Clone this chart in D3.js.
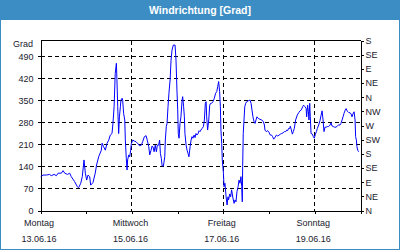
<!DOCTYPE html>
<html>
<head>
<meta charset="utf-8">
<script src="https://cdn.jsdelivr.net/npm/d3@7"></script>
<style>
  body { margin: 0; background: #fff; }
  svg { display: block; font-family: "Liberation Sans", Arial, sans-serif; }
</style>
</head>
<body>
<svg id="chart" width="400" height="250"></svg>
<script>
const title = 'Windrichtung [Grad]';
const unitLabel = 'Grad';
const dayNames = ['Montag', 'Mittwoch', 'Freitag', 'Sonntag'];
const dateLabels = ['13.06.16', '15.06.16', '17.06.16', '19.06.16'];
const gradTicks = [0, 70, 140, 210, 280, 350, 420, 490];
const compassTicks = [0, 45, 90, 135, 180, 225, 270, 315, 360, 405, 450, 495, 540];
const compassLabels = ['N', 'NE', 'E', 'SE', 'S', 'SW', 'W', 'NW', 'N', 'NE', 'E', 'SE', 'S'];

// hours since Mo 13.06.16 00:00
const hours = [
  0.4, 1.6, 3.3, 5.1, 5.9, 7.4, 8.6, 9.5, 11.2, 12.1, 13.0, 14.4, 15.6, 16.4, 18.2,
  19.6, 20.3, 21.4, 22.2, 23.1, 23.8, 24.5, 25.2, 26.1, 26.6, 27.8, 29.0, 29.7, 30.8, 32.2,
  32.6, 33.4, 34.3, 35.2, 36.1, 36.9, 37.8, 38.3, 38.9, 39.2, 39.5, 40.1, 40.4, 40.8, 41.3,
  41.7, 42.2, 42.5, 43.1, 43.4, 43.9, 44.5, 44.8, 45.3, 45.7, 46.0, 46.6, 47.1, 47.6, 48.0,
  48.7, 49.5, 50.4, 51.5, 52.3, 53.2, 53.9, 54.8, 55.7, 56.3, 57.1, 57.6, 58.3, 58.8, 59.3,
  59.9, 60.5, 61.1, 61.6, 62.3, 62.8, 63.2, 63.7, 64.1, 64.8, 65.5, 65.8, 66.3,
  66.7, 67.2, 67.7, 68.3, 68.8, 69.3, 70.0, 70.9, 71.4, 71.9, 72.3, 72.6, 73.0, 73.5, 74.0,
  74.6, 74.9, 75.4, 75.8, 76.1, 76.7, 77.2, 77.7, 78.2, 78.8, 79.3, 79.8, 80.3, 80.9, 81.4,
  81.9, 82.4, 83.0, 83.5, 84.0, 84.5, 85.1, 85.8, 86.3, 86.8, 87.2, 87.5, 88.0, 88.6, 89.1,
  89.6, 90.1, 90.8, 91.5, 92.2, 92.8, 93.3, 93.8, 94.3, 94.7, 95.0, 95.4, 95.7, 96.3, 96.6,
  97.1, 97.7, 98.2, 98.7, 99.0, 99.6, 100.1, 100.6,
  101.3, 101.9, 102.4, 102.9, 103.4, 104.0, 104.5, 105.0, 105.5, 105.9, 106.2, 106.4, 106.7, 107.1, 107.5,
  108.0, 108.5, 109.4, 110.3, 110.8, 111.3, 111.8, 112.4, 112.9, 113.4, 113.9, 114.6, 115.5, 116.4, 117.3,
  117.8, 118.1, 118.8, 119.5, 120.2, 120.9, 121.6, 122.1, 122.7, 123.4, 124.1, 124.8, 125.5, 126.2, 126.9,
  127.6, 128.3, 129.0, 129.5, 130.0, 130.5, 131.1, 131.4, 131.9, 132.5, 133.0, 133.5, 134.2,
  135.1, 135.8, 136.5, 137.2, 137.9, 138.4, 139.1, 139.7, 140.0, 140.5, 140.9, 141.2, 141.6, 141.9, 142.3,
  143.0, 143.5, 144.0, 144.6, 145.1, 145.6, 146.3, 147.0, 147.5, 148.1, 148.6, 149.1, 149.6, 150.2, 150.8,
  151.5, 152.3, 152.8, 153.3, 154.0, 154.7, 155.4, 156.1, 156.8, 157.5, 158.0, 158.6, 159.1, 159.6, 160.1,
  160.7, 161.2, 161.7, 162.2, 162.8, 163.3, 163.8, 164.3, 164.9, 165.4, 165.7, 166.1, 166.4, 166.8, 167.3
];

// wind direction in degrees (0..540 scale, as plotted)
const windDir = [
  106, 111, 111, 113, 109, 113, 109, 117, 117, 125, 117, 113, 117, 106, 90,
  74, 71, 85, 106, 159, 117, 95, 111, 106, 79, 87, 117, 143, 169, 190,
  212, 201, 190, 212, 222, 238, 243, 275, 328, 381, 434, 466, 413, 328, 243,
  296, 328, 349, 355, 349, 307, 286, 222, 164, 127, 159, 175, 169, 190, 212,
  222, 219, 217, 210, 204, 206, 217, 233, 236, 222, 201, 175, 190, 203, 201,
  185, 206, 185, 206, 206, 222, 180, 164, 140, 140, 169, 222, 265,
  275, 328, 371, 413, 476, 508, 524, 524, 476, 381, 318, 243, 228, 275, 296,
  349, 360, 328, 296, 243, 206, 190, 180, 169, 201, 222, 233, 228, 238, 230,
  243, 238, 243, 252, 249, 254, 259, 265, 286, 339, 344, 296, 254, 286, 333,
  339, 339, 344, 355, 371, 376, 392, 408, 376, 328, 254, 212, 159, 117, 74,
  85, 42, 16, 42, 32, 51, 42, 64,
  38, 21, 32, 26, 58, 74, 95, 85, 106, 74, 26, 138, 243, 286, 328,
  339, 344, 347, 349, 339, 317, 296, 280, 275, 286, 296, 291, 288, 286, 280,
  270, 254, 249, 252, 247, 238, 238, 233, 225, 231, 238, 235, 238, 241, 243,
  245, 249, 249, 254, 252, 259, 259, 266, 256, 241, 249, 259, 286,
  302, 309, 315, 318, 328, 333, 328, 323, 296, 333, 312, 286, 339, 296, 243,
  241, 233, 228, 241, 249, 259, 270, 284, 299, 315, 286, 249, 263, 263, 265,
  265, 270, 277, 267, 265, 263, 263, 267, 270, 270, 275, 286, 296, 307, 315,
  322, 315, 312, 309, 309, 305, 296, 305, 312, 286, 233, 222, 201, 190, 185
];

const W = 400, H = 250;
const margin = {left: 40, top: 40, right: 40, bottom: 40};
const plotW = W - margin.left - margin.right;
const plotH = H - margin.top - margin.bottom;
const blue = '#3c8dc4';
const textColor = '#1a1a2e';

const startDate = new Date(2016, 5, 13);
const hourMs = 3600 * 1000;
const data = hours.map((h, i) => ({date: new Date(+startDate + h * hourMs), value: windDir[i]}));
const majorDates = dateLabels.map((d, i) => new Date(+startDate + i * 48 * hourMs));

const svg = d3.select('#chart');

// frame + title bar
svg.append('rect')
   .attr('x', 0.5).attr('y', 0.5)
   .attr('width', W - 1).attr('height', H - 1)
   .attr('fill', '#fff')
   .attr('stroke', blue);

svg.append('rect')
   .attr('x', 0).attr('y', 0)
   .attr('width', W).attr('height', 20)
   .attr('fill', blue);

svg.append('text')
   .attr('x', W / 2).attr('y', 14)
   .attr('text-anchor', 'middle')
   .attr('fill', '#fff')
   .attr('font-weight', 'bold')
   .attr('font-size', '10.5px')
   .text(title);

const xScale = d3.scaleTime()
                 .domain([startDate, new Date(+startDate + 7 * 24 * hourMs)])
                 .range([margin.left, margin.left + plotW]);
const yScale = d3.scaleLinear()
                 .domain([0, 540])
                 .range([margin.top + plotH, margin.top]);

const g = svg.append('g').attr('transform', 'translate(0.5,0.5)');

// grid lines
g.append('g')
 .selectAll('line')
 .data(gradTicks.filter(d => d > 0))
 .join('line')
 .attr('x1', margin.left).attr('x2', margin.left + plotW)
 .attr('y1', d => Math.round(yScale(d))).attr('y2', d => Math.round(yScale(d)))
 .attr('stroke', '#000')
 .attr('stroke-dasharray', '4,3')
 .attr('shape-rendering', 'crispEdges');

g.append('g')
 .selectAll('line')
 .data(majorDates.slice(1))
 .join('line')
 .attr('x1', d => Math.round(xScale(d))).attr('x2', d => Math.round(xScale(d)))
 .attr('y1', margin.top).attr('y2', margin.top + plotH)
 .attr('stroke', '#000')
 .attr('stroke-dasharray', '4,3')
 .attr('shape-rendering', 'crispEdges');

// axes
const yAxis = d3.axisLeft(yScale)
                .tickValues(gradTicks)
                .tickSize(3)
                .tickSizeOuter(0)
                .tickPadding(4);
const y2Axis = d3.axisRight(yScale)
                 .tickValues(compassTicks)
                 .tickFormat((d, i) => compassLabels[i])
                 .tickSize(3)
                 .tickSizeOuter(0)
                 .tickPadding(2);
const xAxis = d3.axisBottom(xScale)
                .ticks(d3.timeDay.every(1))
                .tickFormat('')
                .tickSize(3)
                .tickSizeOuter(0);

function styleAxis(sel) {
  sel.selectAll('path, line')
     .attr('stroke', '#000')
     .attr('shape-rendering', 'crispEdges');
  sel.selectAll('text')
     .attr('fill', textColor)
     .attr('font-size', '9px')
     .attr('font-family', '"Liberation Sans", Arial, sans-serif');
}

g.append('g')
 .attr('transform', `translate(${margin.left},0)`)
 .call(yAxis)
 .call(styleAxis);

g.append('g')
 .attr('transform', `translate(${margin.left + plotW},0)`)
 .call(y2Axis)
 .call(styleAxis);

g.append('g')
 .attr('transform', `translate(0,${margin.top + plotH})`)
 .call(xAxis)
 .call(styleAxis);

// plot box top line
g.append('line')
 .attr('x1', margin.left).attr('x2', margin.left + plotW)
 .attr('y1', margin.top).attr('y2', margin.top)
 .attr('stroke', '#000')
 .attr('shape-rendering', 'crispEdges');

// unit label
svg.append('text')
   .attr('x', 33).attr('y', 47)
   .attr('text-anchor', 'end')
   .attr('fill', textColor)
   .attr('font-size', '9px')
   .text(unitLabel);

// x labels (day name + date)
const xLabels = svg.append('g')
                   .selectAll('g')
                   .data(majorDates)
                   .join('g')
                   .attr('transform', d => `translate(${xScale(d) - 1},0)`);
xLabels.append('text')
       .attr('y', 226)
       .attr('text-anchor', 'middle')
       .attr('fill', textColor)
       .attr('font-size', '9px')
       .text((d, i) => dayNames[i]);
xLabels.append('text')
       .attr('y', 242)
       .attr('text-anchor', 'middle')
       .attr('fill', textColor)
       .attr('font-size', '9px')
       .text((d, i) => dateLabels[i]);

// data line
svg.append('path')
   .datum(data)
   .attr('fill', 'none')
   .attr('stroke', '#0000ff')
   .attr('stroke-width', 1)
   .attr('d', d3.line()
     .x(d => xScale(d.date))
     .y(d => yScale(d.value)));
</script>
</body>
</html>
